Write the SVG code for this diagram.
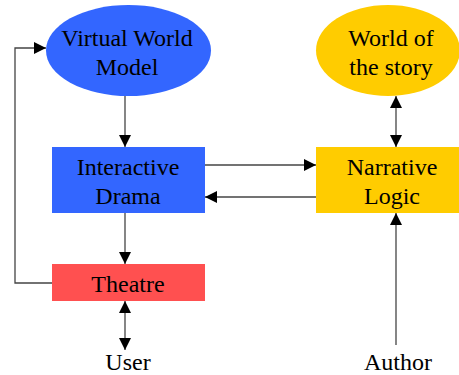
<svg xmlns="http://www.w3.org/2000/svg" width="459" height="375" viewBox="0 0 459 375">
<style>
.c{stroke:#444;stroke-width:1.3;fill:none}
</style>
<defs>
<marker id="ah" markerUnits="userSpaceOnUse" markerWidth="12" markerHeight="12" viewBox="0 0 12 12" refX="12" refY="6" orient="auto-start-reverse">
<path d="M0,0 L12,6 L0,12 Z" fill="#000"/>
</marker>
</defs>
<rect width="459" height="375" fill="#fff"/>
<g id="connectors">
<line class="c" x1="125" y1="96" x2="125" y2="147" marker-end="url(#ah)"/>
<line class="c" x1="125" y1="213" x2="125" y2="264" marker-end="url(#ah)"/>
<line class="c" x1="125" y1="301" x2="125" y2="350" marker-start="url(#ah)" marker-end="url(#ah)"/>
<polyline class="c" points="52,283 15,283 15,48 46,48" marker-end="url(#ah)"/>
<line class="c" x1="205" y1="165" x2="316" y2="165" marker-end="url(#ah)"/>
<line class="c" x1="316" y1="197" x2="205" y2="197" marker-end="url(#ah)"/>
<line class="c" x1="396" y1="96" x2="396" y2="147" marker-start="url(#ah)" marker-end="url(#ah)"/>
<line class="c" x1="396" y1="345" x2="396" y2="213" marker-end="url(#ah)"/>
</g>
<g font-family="Liberation Serif" font-size="24" text-anchor="middle" fill="#000">
<g id="vwm">
<ellipse cx="128.5" cy="50.5" rx="82.5" ry="45.5" fill="#3366FF"/>
<text x="127" y="46">Virtual World</text>
<text x="127" y="75">Model</text>
</g>
<g id="wots">
<ellipse cx="388" cy="50.5" rx="72" ry="45.5" fill="#FFCC00"/>
<text x="391" y="46">World of</text>
<text x="391" y="75">the story</text>
</g>
<g id="drama">
<rect x="52" y="147" width="153" height="66" fill="#3366FF"/>
<text x="128" y="175">Interactive</text>
<text x="128" y="204">Drama</text>
</g>
<g id="narrative">
<rect x="316" y="147" width="152" height="66" fill="#FFCC00"/>
<text x="392" y="175">Narrative</text>
<text x="392" y="204">Logic</text>
</g>
<g id="theatre">
<rect x="52" y="264" width="153" height="37" fill="#FF5050"/>
<text x="128" y="292">Theatre</text>
</g>
<g id="user"><text x="128" y="370">User</text></g>
<g id="author"><text x="398" y="370">Author</text></g>
</g>
</svg>
